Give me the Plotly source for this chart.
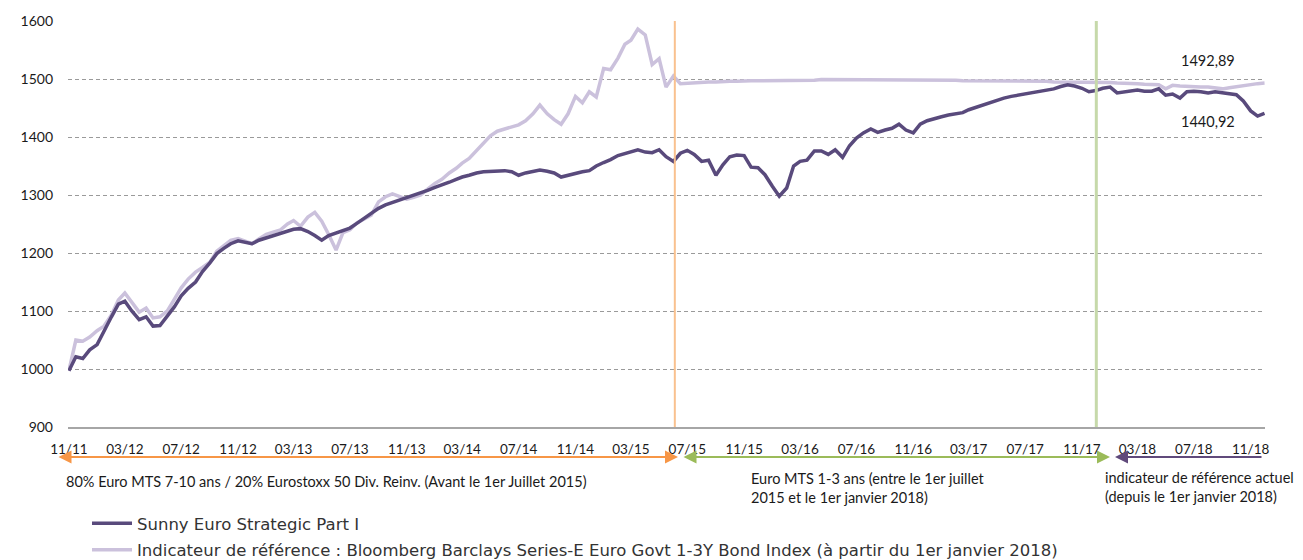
import plotly.graph_objects as go
import pandas as pd

# ---------------- data ----------------
# semi-monthly observations: 1st and 16th of each month from Nov 2011
dates = []
for m in pd.period_range("2011-11", "2018-12", freq="M"):
    dates.append(f"{m.year}-{m.month:02d}-01")
    dates.append(f"{m.year}-{m.month:02d}-16")
dates = dates[:171]

sunny = [997, 1021, 1018, 1033, 1042, 1066, 1090, 1112, 1117, 1100,
         1085, 1090, 1074, 1075, 1092, 1107, 1126, 1139, 1150, 1168,
         1183, 1199, 1208, 1216, 1221, 1219, 1216, 1222, 1226, 1230,
         1234, 1238, 1241, 1242, 1237, 1230, 1222, 1230, 1234, 1238,
         1243, 1251, 1260, 1268, 1277, 1283, 1287, 1291, 1295, 1299,
         1303, 1308, 1313, 1317, 1322, 1327, 1331, 1334, 1338, 1340,
         1341, 1342, 1342, 1340, 1334, 1338, 1341, 1343, 1341, 1338,
         1331, 1334, 1338, 1340, 1342, 1350, 1356, 1361, 1368, 1372,
         1375, 1378, 1374, 1373, 1378, 1366, 1358, 1372, 1377, 1370,
         1358, 1360, 1334, 1352, 1366, 1369, 1368, 1348, 1347, 1335,
         1315, 1298, 1312, 1350, 1358, 1360, 1376, 1376, 1370, 1378,
         1365, 1385, 1398, 1407, 1414, 1408, 1412, 1415, 1422, 1412,
         1407, 1422, 1428, 1432, 1435, 1438, 1440, 1442, 1447, 1451,
         1455, 1460, 1463, 1467, 1470, 1472, 1475, 1477, 1479, 1481,
         1483, 1487, 1490, 1488, 1484, 1478, 1480, 1484, 1486, 1476,
         1478, 1479, 1481, 1479, 1479, 1483, 1472, 1474, 1467, 1478,
         1479, 1478, 1476, 1478, 1476, 1474, 1473, 1462, 1445, 1436,
         1440.92]

benchmark = [997, 1050, 1048, 1055, 1066, 1074, 1093, 1119, 1131, 1115,
             1098, 1105, 1088, 1090, 1100, 1120, 1140, 1155, 1167, 1175,
             1184, 1203, 1212, 1222, 1225, 1220, 1216, 1224, 1232, 1236,
             1240, 1250, 1256, 1246, 1262, 1270, 1255, 1232, 1205, 1235,
             1240, 1252, 1258, 1265, 1288, 1297, 1302, 1298, 1293, 1296,
             1300, 1310, 1320, 1327, 1338, 1346, 1355, 1363, 1376, 1390,
             1402, 1410, 1414, 1418, 1421, 1428, 1440, 1455, 1440, 1430,
             1422, 1440, 1470, 1459, 1478, 1469, 1518, 1516, 1536, 1560,
             1567, 1586, 1576, 1525, 1535, 1486, 1505, 1492, 1493, 1494,
             1494, 1495, 1495, 1496, 1496, 1496, 1497, 1497, 1497, 1497,
             1497, 1498, 1498, 1498, 1498, 1498, 1498, 1499, 1499, 1499,
             1499, 1499, 1499, 1498, 1498, 1498, 1498, 1498, 1498, 1498,
             1498, 1498, 1498, 1498, 1498, 1498, 1498, 1497, 1497, 1497,
             1497, 1497, 1497, 1497, 1497, 1496, 1496, 1496, 1496, 1496,
             1495, 1495, 1495, 1495, 1494, 1494, 1494, 1494, 1494, 1493,
             1493, 1493, 1492, 1491, 1491, 1490, 1483, 1489, 1488, 1487,
             1486, 1486, 1486, 1485, 1483, 1485, 1487, 1489, 1490, 1492,
             1492.89]

name_sunny = "Sunny Euro Strategic Part I"
name_bench = ("Indicateur de référence : Bloomberg Barclays Series-E Euro Govt "
              "1-3Y Bond Index (à partir du 1er janvier 2018)")
change_dates = ["2015-06-04", "2017-12-02"]
last_sunny_label = "1440,92"
last_bench_label = "1492,89"
period_labels = [
    "80% Euro MTS 7-10 ans / 20% Eurostoxx 50 Div. Reinv. (Avant le 1er Juillet 2015)",
    "Euro MTS 1-3 ans (entre le 1er juillet<br>2015 et le 1er janvier 2018)",
    "indicateur de référence actuel<br>(depuis le 1er janvier 2018)",
]

# ---------------- figure ----------------
C_SUNNY = "#594a7c"
C_BENCH = "#cbc1dc"
C_ORANGE = "#f79646"
C_GREEN = "#9bbb59"
C_PURPLE = "#604a7b"
TXT = "#1a1a1a"
FONT = "Lato"

OFF = 8                     # page body margin of the html page
W, H = 1303 - OFF, 560 - OFF
L, T = 68 - OFF, 21 - OFF
R = W - (1265 - OFF)
B = H - (427 - OFF)
pw, ph = W - L - R, H - T - B


def dx(px):
    """screen pixel -> x domain fraction"""
    return (px - OFF - L) / pw


def dy(py):
    """screen pixel -> y domain fraction"""
    return (H - B - (py - OFF)) / ph


fig = go.Figure()
fig.add_trace(go.Scatter(x=dates, y=benchmark, mode="lines", name=name_bench,
                         line=dict(color=C_BENCH, width=3.5), legendrank=2,
                         legendgroup="b"))
fig.add_trace(go.Scatter(x=dates, y=sunny, mode="lines", name=name_sunny,
                         line=dict(color=C_SUNNY, width=3.5), legendrank=1,
                         legendgroup="a"))

shapes = []
shapes.append(dict(type="line", xref="x", yref="paper", x0=change_dates[0],
                   x1=change_dates[0], y0=0, y1=1,
                   line=dict(color="#f9c18f", width=2)))
shapes.append(dict(type="line", xref="x", yref="paper", x0=change_dates[1],
                   x1=change_dates[1], y0=0, y1=1,
                   line=dict(color="#c6d9aa", width=3)))
fig.update_layout(shapes=shapes)

annotations = []
ay_px = 457
for (a, b, col) in [(57, 678, C_ORANGE), (682, 1110, C_GREEN)]:
    annotations.append(dict(x=dx(b), y=dy(ay_px), xref="x domain", yref="y domain",
                            ax=dx(a), ay=dy(ay_px), axref="x domain", ayref="y domain",
                            showarrow=True, arrowhead=2, startarrowhead=2,
                            arrowside="end+start", arrowsize=1.3, startarrowsize=1.3,
                            arrowwidth=2, arrowcolor=col, text=""))
annotations.append(dict(x=dx(1115), y=dy(ay_px), xref="x domain", yref="y domain",
                        ax=dx(1263), ay=dy(ay_px), axref="x domain", ayref="y domain",
                        showarrow=True, arrowhead=2, arrowsize=1.3, arrowwidth=2,
                        arrowcolor=C_PURPLE, text=""))
annotations.append(dict(x=dx(64), y=dy(481), xref="x domain", yref="y domain",
                        text=period_labels[0], showarrow=False, xanchor="left",
                        yanchor="middle", font=dict(family=FONT, size=14.5, color=TXT)))
annotations.append(dict(x=dx(749), y=dy(487.5), xref="x domain", yref="y domain",
                        text=period_labels[1], showarrow=False, xanchor="left",
                        yanchor="middle", align="left",
                        font=dict(family=FONT, size=14.5, color=TXT)))
annotations.append(dict(x=dx(1103), y=dy(486.5), xref="x domain", yref="y domain",
                        text=period_labels[2], showarrow=False, xanchor="left",
                        yanchor="middle", align="left",
                        font=dict(family=FONT, size=14.5, color=TXT)))
annotations.append(dict(x=dx(1208), y=dy(60), xref="x domain", yref="y domain",
                        text=last_bench_label, showarrow=False, xanchor="center",
                        yanchor="middle",
                        font=dict(family=FONT, size=14.5, color=TXT)))
annotations.append(dict(x=dx(1208), y=dy(122), xref="x domain", yref="y domain",
                        text=last_sunny_label, showarrow=False, xanchor="center",
                        yanchor="middle",
                        font=dict(family=FONT, size=14.5, color=TXT)))

fig.update_layout(
    width=W, height=H,
    margin=dict(l=L, r=R, t=T, b=B, autoexpand=False),
    paper_bgcolor="white", plot_bgcolor="white",
    annotations=annotations,
    showlegend=True,
    legend=dict(x=dx(87), y=dy(506), xanchor="left", yanchor="top",
                orientation="v", tracegroupgap=2, maxheight=200,
                font=dict(family="DejaVu Sans", size=16.5, color="#333333"),
                bgcolor="rgba(0,0,0,0)", itemwidth=40),
    xaxis=dict(type="date", range=["2011-10-30", "2018-12-02"],
               tick0="2011-11-01", dtick="M4", tickformat="%m/%y",
               showgrid=False, showline=True, linecolor="#a6a6a6", linewidth=1.5,
               ticks="", ticklabelstandoff=9,
               tickfont=dict(family=FONT, size=13.5, color=TXT), zeroline=False),
    yaxis=dict(range=[900, 1600], dtick=100, showgrid=True, gridcolor="#9a9a9a",
               griddash="4px,3px", gridwidth=1, zeroline=False, ticks="",
               ticklabelstandoff=14,
               tickfont=dict(family=FONT, size=14, color=TXT)),
)

fig.write_html("out.html")
